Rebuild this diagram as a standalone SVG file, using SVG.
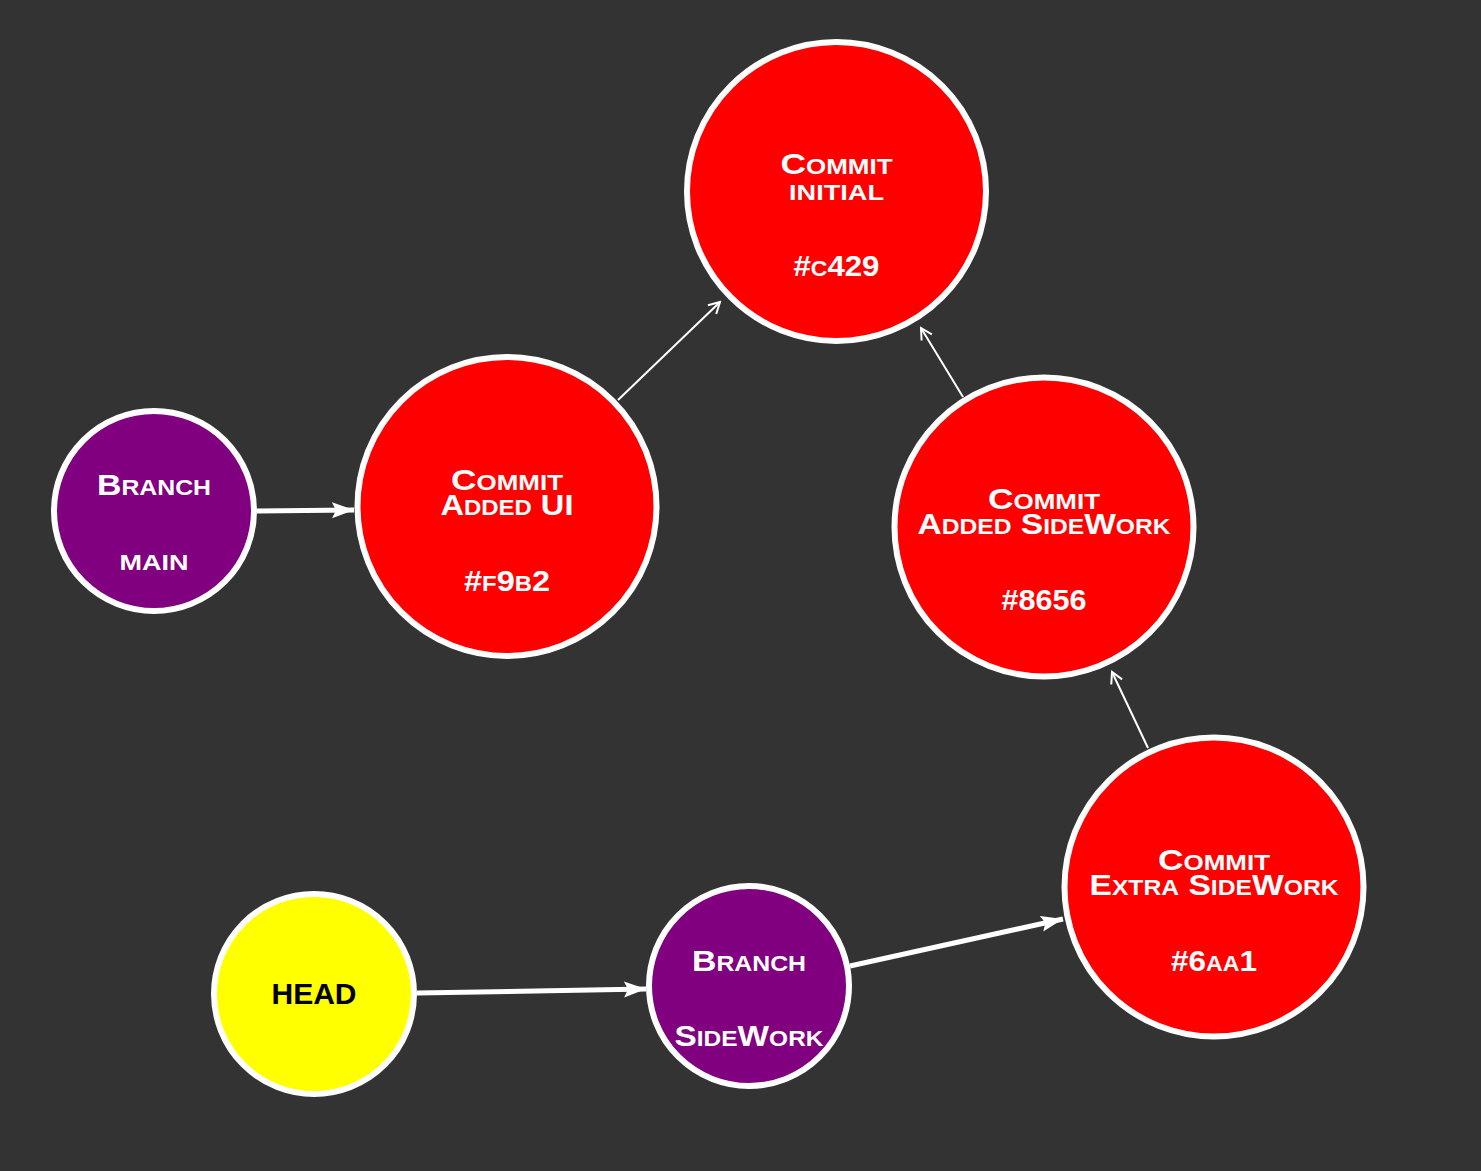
<svg xmlns="http://www.w3.org/2000/svg" width="1481" height="1171" viewBox="0 0 1481 1171">
<style>
.bg{fill:#333333}
.commit{fill:#ff0000;stroke:#ffffff;stroke-width:6}
.branch{fill:#800080;stroke:#ffffff;stroke-width:6}
.head{fill:#ffff00;stroke:#ffffff;stroke-width:6}
text{font-family:"Liberation Sans",Arial,sans-serif;font-weight:bold;font-size:30px;font-variant:small-caps;text-anchor:middle;fill:#ffffff}
tspan.s{font-size:32px}
text.dark{fill:#000000}
.thin{stroke:#ffffff;stroke-width:2;fill:none}
.thick{stroke:#ffffff;stroke-width:5;fill:none}
</style>
<defs>
<marker id="open" markerUnits="userSpaceOnUse" viewBox="0 0 14 14" refX="12" refY="7" markerWidth="14" markerHeight="14" orient="auto">
<path d="M1,1 L12,7 L1,13" fill="none" stroke="#ffffff" stroke-width="2"/>
</marker>
<marker id="solid" markerUnits="userSpaceOnUse" viewBox="0 0 22 18" refX="22" refY="9" markerWidth="22" markerHeight="18" orient="auto">
<path d="M0,1 L22,9 L0,17 L4,9 z" fill="#ffffff"/>
</marker>
</defs>
<rect class="bg" x="0" y="0" width="1481" height="1171"/>
<g id="connectors">
<line class="thin" x1="618" y1="400" x2="720" y2="302" marker-end="url(#open)"/>
<line class="thin" x1="963" y1="397" x2="921" y2="328" marker-end="url(#open)"/>
<line class="thin" x1="1148" y1="748" x2="1112" y2="672" marker-end="url(#open)"/>
<line class="thick" x1="257" y1="511" x2="354" y2="510" marker-end="url(#solid)"/>
<line class="thick" x1="417" y1="993" x2="646" y2="989" marker-end="url(#solid)"/>
<line class="thick" x1="850" y1="966" x2="1063" y2="919" marker-end="url(#solid)"/>
</g>
<g id="commit-initial">
<circle class="commit" cx="836.5" cy="191.5" r="149.5"/>
<text x="836.5" y="174" textLength="112" lengthAdjust="spacingAndGlyphs">C<tspan class="s">ommit</tspan></text>
<text x="836.5" y="200" textLength="95" lengthAdjust="spacingAndGlyphs"><tspan class="s">initial</tspan></text>
<text x="836.5" y="276" textLength="86" lengthAdjust="spacingAndGlyphs">#<tspan class="s">c</tspan>429</text>
</g>
<g id="commit-added-ui">
<circle class="commit" cx="507" cy="506.5" r="149.5"/>
<text x="507" y="490" textLength="112" lengthAdjust="spacingAndGlyphs">C<tspan class="s">ommit</tspan></text>
<text x="507" y="515" textLength="133" lengthAdjust="spacingAndGlyphs">A<tspan class="s">dded</tspan> UI</text>
<text x="507" y="591" textLength="86" lengthAdjust="spacingAndGlyphs">#<tspan class="s">f</tspan>9<tspan class="s">b</tspan>2</text>
</g>
<g id="commit-added-sidework">
<circle class="commit" cx="1044" cy="527" r="149.5"/>
<text x="1044" y="509" textLength="112" lengthAdjust="spacingAndGlyphs">C<tspan class="s">ommit</tspan></text>
<text x="1044" y="534" textLength="253" lengthAdjust="spacingAndGlyphs">A<tspan class="s">dded</tspan> S<tspan class="s">ide</tspan>W<tspan class="s">ork</tspan></text>
<text x="1044" y="610" textLength="85" lengthAdjust="spacingAndGlyphs">#8656</text>
</g>
<g id="commit-extra-sidework">
<circle class="commit" cx="1214" cy="887" r="149.5"/>
<text x="1214" y="870" textLength="112" lengthAdjust="spacingAndGlyphs">C<tspan class="s">ommit</tspan></text>
<text x="1214" y="895" textLength="249" lengthAdjust="spacingAndGlyphs">E<tspan class="s">xtra</tspan> S<tspan class="s">ide</tspan>W<tspan class="s">ork</tspan></text>
<text x="1214" y="971" textLength="86" lengthAdjust="spacingAndGlyphs">#6<tspan class="s">aa</tspan>1</text>
</g>
<g id="branch-main">
<circle class="branch" cx="154" cy="511" r="100"/>
<text x="154" y="495" textLength="114" lengthAdjust="spacingAndGlyphs">B<tspan class="s">ranch</tspan></text>
<text x="154" y="570" textLength="69" lengthAdjust="spacingAndGlyphs"><tspan class="s">main</tspan></text>
</g>
<g id="branch-sidework">
<circle class="branch" cx="749" cy="986" r="100"/>
<text x="749" y="971" textLength="114" lengthAdjust="spacingAndGlyphs">B<tspan class="s">ranch</tspan></text>
<text x="749" y="1046" textLength="149" lengthAdjust="spacingAndGlyphs">S<tspan class="s">ide</tspan>W<tspan class="s">ork</tspan></text>
</g>
<g id="head">
<circle class="head" cx="314" cy="994" r="100"/>
<text class="dark" x="314" y="1004">HEAD</text>
</g>
</svg>
